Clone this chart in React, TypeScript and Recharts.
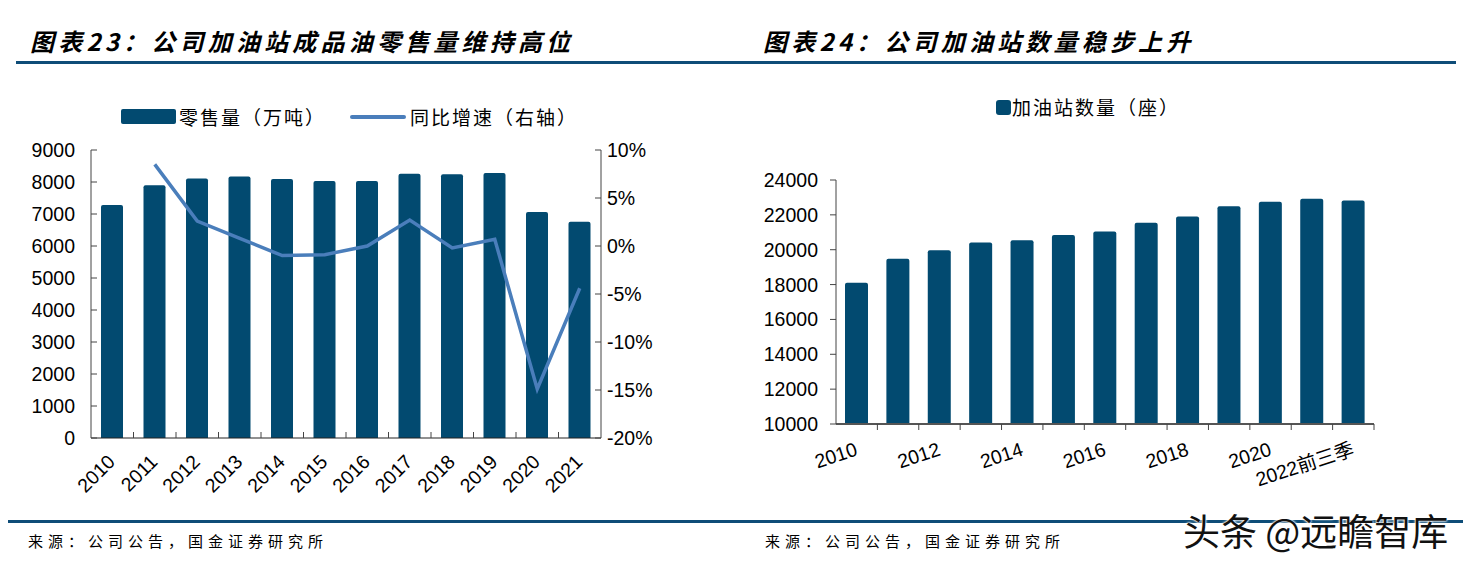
import React from 'react';
import { ComposedChart, BarChart, Bar, Line, XAxis, YAxis } from 'recharts';

// 图表23 data
const salesYears = ['2010', '2011', '2012', '2013', '2014', '2015', '2016', '2017', '2018', '2019', '2020', '2021'];
const salesVolume = [7280, 7900, 8110, 8170, 8090, 8030, 8030, 8260, 8240, 8280, 7060, 6760];
const salesYoy: (number | null)[] = [null, 8.5, 2.6, 0.8, -1.0, -0.9, 0.0, 2.7, -0.2, 0.7, -14.9, -4.4];
const salesTicks = [0, 1000, 2000, 3000, 4000, 5000, 6000, 7000, 8000, 9000];
const yoyTicks = [-20, -15, -10, -5, 0, 5, 10];

// 图表24 data
const stationYears = ['2010', '2011', '2012', '2013', '2014', '2015', '2016', '2017', '2018', '2019', '2020', '2021', '2022前三季'];
const stationCount = [18100, 19480, 19970, 20410, 20550, 20840, 21050, 21550, 21910, 22500, 22750, 22930, 22830];
const stationTicks = [10000, 12000, 14000, 16000, 18000, 20000, 22000, 24000];

const salesData = salesYears.map((year, i) => ({ year, volume: salesVolume[i], yoy: salesYoy[i] }));
const stationData = stationYears.map((year, i) => ({ year, count: stationCount[i] }));

const BAR = '#024a70';
const LINE = '#4a7ebb';
const RULE = '#0e4d78';
const AXIS = '#444';
const NUM_FONT = '"Liberation Sans", Arial, sans-serif';
const CJK_FONT = '"Noto Sans CJK SC", "Noto Sans", sans-serif';
const NUM_SIZE = 19.5;

const LEFT_BAND = 510 / salesYears.length;
const RIGHT_BAND = 538 / stationYears.length;

const LeftYTick = ({ x, y, payload }: any) => (
  <g>
    <line x1={x} x2={x + 6} y1={y} y2={y} stroke={AXIS} />
    <text x={x - 16} y={y} textAnchor="end" dominantBaseline="central" fontSize={NUM_SIZE} fontFamily={NUM_FONT} fill="#000">
      {payload.value}
    </text>
  </g>
);

const PctTick = ({ x, y, payload }: any) => (
  <g>
    <line x1={x - 6} x2={x} y1={y} y2={y} stroke={AXIS} />
    <text x={x + 6} y={y} textAnchor="start" dominantBaseline="central" fontSize={NUM_SIZE} fontFamily={NUM_FONT} fill="#000">
      {`${payload.value}%`}
    </text>
  </g>
);

const SalesXTick = ({ x, y, payload, index }: any) => (
  <g>
    {index > 0 && <line x1={x - LEFT_BAND / 2} x2={x - LEFT_BAND / 2} y1={y} y2={y - 6} stroke={AXIS} />}
    <text
      transform={`translate(${x + 4},${y + 25}) rotate(-45)`}
      textAnchor="end"
      fontSize={NUM_SIZE}
      fontFamily={NUM_FONT}
      fill="#000"
    >
      {payload.value}
    </text>
  </g>
);

const StationYTick = ({ x, y, payload }: any) => (
  <g>
    <line x1={x - 6} x2={x} y1={y} y2={y} stroke={AXIS} />
    <text x={x - 18} y={y} textAnchor="end" dominantBaseline="central" fontSize={NUM_SIZE} fontFamily={NUM_FONT} fill="#000">
      {payload.value}
    </text>
  </g>
);

const StationXTick = ({ x, y, payload, index }: any) => (
  <g>
    {index > 0 && <line x1={x - RIGHT_BAND / 2} x2={x - RIGHT_BAND / 2} y1={y} y2={y + 6} stroke={AXIS} />}
    {index === stationYears.length - 1 && (
      <line x1={x + RIGHT_BAND / 2} x2={x + RIGHT_BAND / 2} y1={y} y2={y + 6} stroke={AXIS} />
    )}
    {index % 2 === 0 && (
      <text
        transform={`translate(${x + 2},${y + 31}) rotate(-18)`}
        textAnchor="end"
        fontSize={NUM_SIZE}
        fontFamily={`${NUM_FONT}, ${CJK_FONT}`}
        fill="#000"
      >
        {payload.value}
      </text>
    )}
  </g>
);

const titleStyle: React.CSSProperties = {
  position: 'absolute',
  top: 25,
  fontFamily: CJK_FONT,
  fontSize: 24,
  fontWeight: 700,
  fontStyle: 'italic',
  letterSpacing: 4.2,
  lineHeight: '32px',
  color: '#000',
  whiteSpace: 'nowrap',
};

const sourceStyle: React.CSSProperties = {
  position: 'absolute',
  top: 531,
  fontFamily: CJK_FONT,
  fontSize: 15,
  letterSpacing: 5,
  lineHeight: '20px',
  color: '#000',
  whiteSpace: 'nowrap',
};

const legendText: React.CSSProperties = {
  position: 'absolute',
  fontFamily: CJK_FONT,
  fontSize: 19,
  letterSpacing: 2,
  lineHeight: '24px',
  color: '#000',
  whiteSpace: 'nowrap',
};

export default function App() {
  return (
    <div style={{ position: 'absolute', left: 0, top: 0, width: 1468, height: 565, background: '#fff', overflow: 'hidden' }}>
      {/* headers */}
      <div style={{ ...titleStyle, left: 30 }}>图表23：公司加油站成品油零售量维持高位</div>
      <div style={{ ...titleStyle, left: 763 }}>图表24：公司加油站数量稳步上升</div>
      <div style={{ position: 'absolute', left: 16, top: 61, width: 1440, height: 3, background: RULE }} />

      {/* left legend */}
      <div style={{ position: 'absolute', left: 121, top: 109, width: 55, height: 15, background: BAR, borderRadius: 2 }} />
      <div style={{ ...legendText, left: 179, top: 105 }}>零售量（万吨）</div>
      <div style={{ position: 'absolute', left: 350, top: 115, width: 56, height: 4, background: LINE, borderRadius: 2 }} />
      <div style={{ ...legendText, left: 410, top: 105 }}>同比增速（右轴）</div>

      {/* left chart */}
      <div style={{ position: 'absolute', left: 0, top: 0 }}>
        <ComposedChart width={740} height={520} data={salesData} margin={{ top: 150, right: 0, bottom: 0, left: 0 }}>
          <XAxis
            dataKey="year"
            height={82}
            interval={0}
            tickSize={0}
            tickMargin={0}
            tick={<SalesXTick />}
            axisLine={{ stroke: '#222' }}
            tickLine={false}
          />
          <YAxis
            yAxisId="left"
            width={91}
            domain={[0, 9000]}
            ticks={salesTicks}
            tickSize={0}
            tickMargin={0}
            tick={<LeftYTick />}
            axisLine={{ stroke: AXIS }}
            tickLine={false}
          />
          <YAxis
            yAxisId="right"
            orientation="right"
            width={139}
            domain={[-20, 10]}
            ticks={yoyTicks}
            tickSize={0}
            tickMargin={0}
            tick={<PctTick />}
            axisLine={{ stroke: AXIS }}
            tickLine={false}
          />
          <Bar yAxisId="left" dataKey="volume" fill={BAR} barSize={22} radius={[2, 2, 0, 0]} isAnimationActive={false} />
          <Line
            yAxisId="right"
            dataKey="yoy"
            type="linear"
            stroke={LINE}
            strokeWidth={3.5}
            dot={false}
            activeDot={false}
            isAnimationActive={false}
          />
        </ComposedChart>
      </div>

      {/* right legend */}
      <div style={{ position: 'absolute', left: 996, top: 100, width: 15, height: 15, background: BAR, borderRadius: 3 }} />
      <div style={{ ...legendText, left: 1012, top: 95 }}>加油站数量（座）</div>

      {/* right chart */}
      <div style={{ position: 'absolute', left: 740, top: 0 }}>
        <BarChart width={728} height={520} data={stationData} margin={{ top: 180, right: 94, bottom: 0, left: 0 }}>
          <XAxis
            dataKey="year"
            height={96}
            interval={0}
            tickSize={0}
            tickMargin={0}
            tick={<StationXTick />}
            axisLine={{ stroke: '#555', strokeWidth: 2 }}
            tickLine={false}
          />
          <YAxis
            width={96}
            domain={[10000, 24000]}
            ticks={stationTicks}
            tickSize={0}
            tickMargin={0}
            tick={<StationYTick />}
            axisLine={{ stroke: AXIS }}
            tickLine={false}
          />
          <Bar dataKey="count" fill={BAR} barSize={23} radius={[2, 2, 0, 0]} isAnimationActive={false} />
        </BarChart>
      </div>

      {/* footers */}
      <div style={{ position: 'absolute', left: 8, top: 520, width: 1455, height: 3, background: RULE }} />
      <div style={{ ...sourceStyle, left: 28 }}>来源：公司公告，国金证券研究所</div>
      <div style={{ ...sourceStyle, left: 765 }}>来源：公司公告，国金证券研究所</div>
      <div
        style={{
          position: 'absolute',
          left: 1183,
          top: 506,
          fontFamily: CJK_FONT,
          fontSize: 37,
          lineHeight: '48px',
          color: '#111',
          whiteSpace: 'nowrap',
          textShadow: '0 0 2px #fff, 0 0 2px #fff, 0 0 3px #fff',
        }}
      >
        头条 @远瞻智库
      </div>
    </div>
  );
}
